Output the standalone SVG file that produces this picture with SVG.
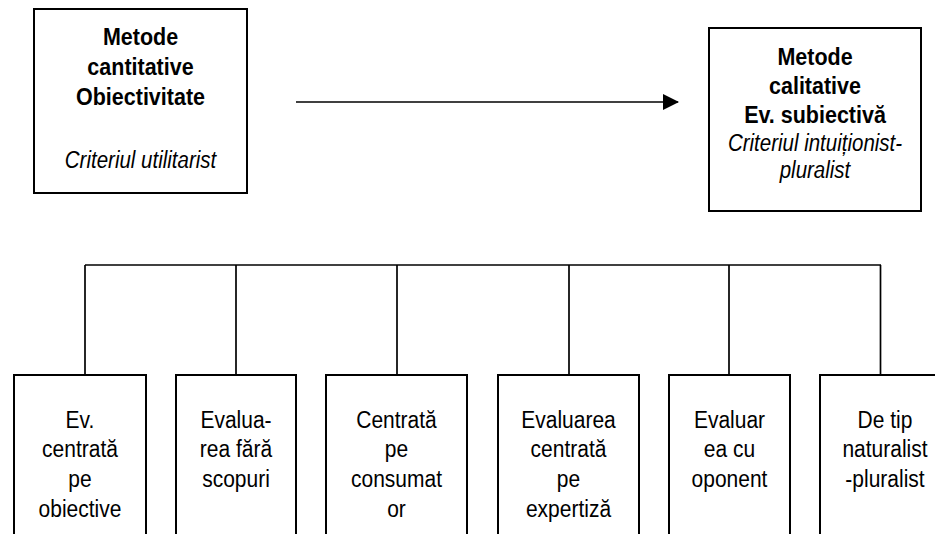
<svg xmlns="http://www.w3.org/2000/svg" width="935" height="534" viewBox="0 0 935 534">
<defs>
<style>
.box{fill:#fff;stroke:#000;stroke-width:2}
.ln{fill:none;stroke:#000;stroke-width:1.7}
text{font-family:"Liberation Sans",Arial,sans-serif;text-anchor:middle;fill:#000}
.b{font-weight:bold;font-size:21.5px}
.i{font-style:italic;font-size:20.5px}
.n{font-size:21px}
</style>
<marker id="ah" markerWidth="16" markerHeight="16" refX="15" refY="8" orient="auto" markerUnits="userSpaceOnUse">
<path d="M0,0 L16,8 L0,16 Z" fill="#000"/>
</marker>
</defs>
<rect width="935" height="534" fill="#fff"/>
<g id="connectors">
<line class="ln" x1="296" y1="102" x2="678" y2="102" marker-end="url(#ah)"/>
<line class="ln" x1="85" y1="265" x2="881" y2="265"/>
<line class="ln" x1="85" y1="265" x2="85" y2="375"/>
<line class="ln" x1="236" y1="265" x2="236" y2="375"/>
<line class="ln" x1="397" y1="265" x2="397" y2="375"/>
<line class="ln" x1="569" y1="265" x2="569" y2="375"/>
<line class="ln" x1="729" y1="265" x2="729" y2="375"/>
<line class="ln" x1="880.5" y1="265" x2="880.5" y2="375"/>
</g>
<g id="cantitative">
<rect class="box" x="34" y="9" width="213" height="184"/>
<text class="b" transform="translate(140.5,45) scale(1,1.15)">Metode</text>
<text class="b" transform="translate(140.5,75) scale(1,1.15)">cantitative</text>
<text class="b" transform="translate(140.5,105) scale(1,1.15)">Obiectivitate</text>
<text class="i" transform="translate(140.5,168) scale(1,1.15)">Criteriul utilitarist</text>
</g>
<g id="calitative">
<rect class="box" x="709" y="28" width="212" height="183"/>
<text class="b" transform="translate(815,65) scale(1,1.15)">Metode</text>
<text class="b" transform="translate(815,94) scale(1,1.15)">calitative</text>
<text class="b" transform="translate(815,123) scale(1,1.15)">Ev. subiectivă</text>
<text class="i" transform="translate(815,151) scale(1,1.15)">Criteriul intuiționist-</text>
<text class="i" transform="translate(815,178) scale(1,1.15)">pluralist</text>
</g>
<g id="obiective">
<rect class="box" x="14" y="375" width="132" height="175"/>
<text class="n" transform="translate(80,428) scale(1,1.15)">Ev.</text>
<text class="n" transform="translate(80,457) scale(1,1.15)">centrată</text>
<text class="n" transform="translate(80,487) scale(1,1.15)">pe</text>
<text class="n" transform="translate(80,517) scale(1,1.15)">obiective</text>
</g>
<g id="fara-scopuri">
<rect class="box" x="176" y="375" width="120" height="175"/>
<text class="n" transform="translate(236,428) scale(1,1.15)">Evalua-</text>
<text class="n" transform="translate(236,457) scale(1,1.15)">rea fără</text>
<text class="n" transform="translate(236,487) scale(1,1.15)">scopuri</text>
</g>
<g id="consumator">
<rect class="box" x="326" y="375" width="141" height="175"/>
<text class="n" transform="translate(396.5,428) scale(1,1.15)">Centrată</text>
<text class="n" transform="translate(396.5,457) scale(1,1.15)">pe</text>
<text class="n" transform="translate(396.5,487) scale(1,1.15)">consumat</text>
<text class="n" transform="translate(396.5,517) scale(1,1.15)">or</text>
</g>
<g id="expertiza">
<rect class="box" x="498" y="375" width="141" height="175"/>
<text class="n" transform="translate(568.5,428) scale(1,1.15)">Evaluarea</text>
<text class="n" transform="translate(568.5,457) scale(1,1.15)">centrată</text>
<text class="n" transform="translate(568.5,487) scale(1,1.15)">pe</text>
<text class="n" transform="translate(568.5,517) scale(1,1.15)">expertiză</text>
</g>
<g id="oponent">
<rect class="box" x="669" y="375" width="121" height="175"/>
<text class="n" transform="translate(729.5,428) scale(1,1.15)">Evaluar</text>
<text class="n" transform="translate(729.5,457) scale(1,1.15)">ea cu</text>
<text class="n" transform="translate(729.5,487) scale(1,1.15)">oponent</text>
</g>
<g id="naturalist">
<rect class="box" x="820" y="375" width="130" height="175"/>
<text class="n" transform="translate(885,428) scale(1,1.15)">De tip</text>
<text class="n" transform="translate(885,457) scale(1,1.15)">naturalist</text>
<text class="n" transform="translate(885,487) scale(1,1.15)">-pluralist</text>
</g>
</svg>
